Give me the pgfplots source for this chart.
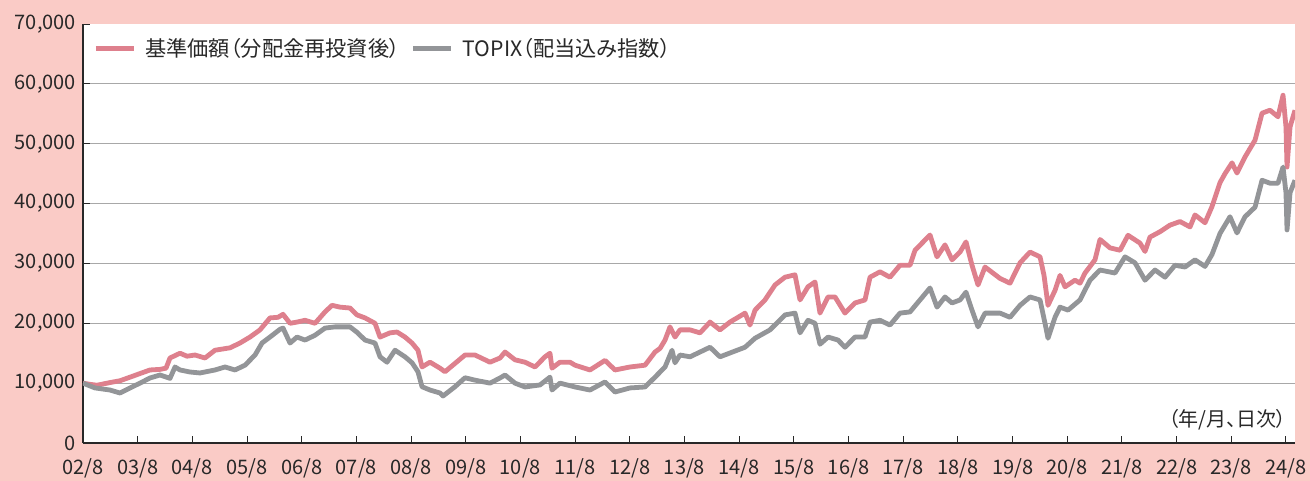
\documentclass[border=0pt]{standalone}
\usepackage{fontspec}
\setmainfont{Noto Sans CJK JP}[RawFeature=+palt]
\usepackage{pgfplots}
\pgfplotsset{compat=1.18}
\usepackage{pgfplotstable}
\definecolor{bgpink}{RGB}{250,203,198}
\definecolor{fundpink}{RGB}{222,128,141}
\definecolor{topixgray}{RGB}{147,149,152}
\definecolor{gridgray}{RGB}{168,168,168}
\definecolor{txt}{RGB}{40,40,40}

% t = years since 2002/8
\pgfplotstableread{
t v
0 10000
0.128 9800
0.256 9650
0.494 10100
0.677 10400
0.860 11000
1.042 11600
1.225 12200
1.408 12300
1.518 12500
1.591 14200
1.774 15000
1.902 14500
2.048 14700
2.231 14200
2.414 15500
2.688 15900
2.871 16700
3.054 17700
3.237 18900
3.420 20900
3.566 21000
3.658 21500
3.786 20000
3.914 20200
4.060 20500
4.243 20000
4.426 21900
4.554 23000
4.700 22700
4.883 22550
5.011 21400
5.157 20900
5.340 20000
5.432 17700
5.614 18400
5.742 18540
5.889 17700
6.017 16700
6.126 15500
6.200 12700
6.346 13500
6.529 12500
6.620 11900
6.803 13300
6.986 14700
7.169 14700
7.443 13500
7.626 14200
7.718 15200
7.900 13900
8.083 13500
8.266 12700
8.449 14400
8.540 15000
8.577 12500
8.723 13500
8.906 13500
8.998 13000
9.272 12200
9.546 13800
9.729 12200
10.004 12700
10.278 13000
10.461 15200
10.552 15800
10.644 17200
10.735 19400
10.826 17700
10.918 18900
11.101 18900
11.284 18400
11.467 20200
11.649 18900
11.832 20200
12.107 21700
12.198 19700
12.290 22200
12.472 23900
12.655 26400
12.838 27700
13.021 28100
13.113 23900
13.259 26100
13.387 26900
13.478 21700
13.625 24400
13.753 24400
13.935 21700
14.118 23400
14.301 23900
14.393 27700
14.576 28600
14.758 27700
14.941 29700
15.124 29700
15.216 32200
15.398 33900
15.490 34750
15.618 31100
15.764 33100
15.892 30600
16.039 31900
16.148 33600
16.258 29700
16.368 26400
16.496 29400
16.770 27500
16.953 26700
17.136 30100
17.319 31900
17.502 31100
17.575 28000
17.648 23000
17.776 25500
17.867 28000
17.959 26100
18.142 27200
18.233 26700
18.325 28400
18.507 30600
18.599 34000
18.782 32600
18.965 32200
19.111 34700
19.330 33400
19.422 32000
19.513 34400
19.696 35300
19.879 36400
20.062 37000
20.245 36100
20.336 38100
20.519 36800
20.647 39500
20.793 43500
20.885 45000
21.013 46800
21.104 45100
21.251 47800
21.434 50600
21.562 55100
21.708 55600
21.854 54500
21.946 58100
22.000 52800
22.019 46100
22.074 52800
22.165 55600
}\fund

\pgfplotstableread{
t v
0 10000
0.219 9200
0.494 8850
0.677 8350
0.860 9200
1.042 10000
1.225 10860
1.408 11360
1.591 10800
1.683 12700
1.774 12200
1.957 11860
2.140 11700
2.414 12200
2.597 12700
2.780 12200
2.963 13000
3.146 14700
3.274 16700
3.420 17700
3.603 19000
3.658 19200
3.786 16700
3.914 17700
4.060 17200
4.243 18000
4.426 19200
4.609 19400
4.883 19400
5.011 18500
5.157 17200
5.340 16700
5.432 14400
5.560 13500
5.706 15500
5.889 14400
6.017 13400
6.126 11900
6.200 9400
6.346 8850
6.529 8350
6.584 7850
6.803 9400
6.986 10900
7.169 10500
7.443 10000
7.626 10860
7.718 11360
7.900 10000
8.083 9360
8.358 9700
8.540 11000
8.577 8850
8.723 10000
8.998 9360
9.272 8850
9.546 10200
9.729 8520
10.004 9200
10.278 9360
10.461 11000
10.644 12700
10.772 15500
10.826 13400
10.918 14700
11.101 14400
11.467 16000
11.649 14400
12.107 16000
12.290 17500
12.564 18900
12.838 21400
13.021 21700
13.113 18400
13.259 20500
13.387 20000
13.478 16500
13.625 17700
13.807 17200
13.935 16000
14.118 17700
14.301 17700
14.393 20200
14.576 20500
14.758 19700
14.941 21700
15.124 21900
15.307 23900
15.490 25900
15.618 22700
15.764 24400
15.892 23400
16.039 23900
16.148 25200
16.258 22200
16.368 19400
16.496 21700
16.770 21700
16.953 21000
17.136 23000
17.319 24400
17.502 23900
17.593 20000
17.648 17500
17.776 21000
17.867 22700
18.014 22200
18.233 23900
18.416 27200
18.599 28900
18.873 28400
19.056 31100
19.239 30100
19.422 27200
19.605 28900
19.788 27700
19.970 29700
20.153 29400
20.336 30600
20.519 29500
20.647 31500
20.793 35000
20.976 37800
21.104 35100
21.251 37800
21.434 39400
21.562 43900
21.708 43400
21.854 43400
21.946 46100
22.000 41800
22.019 35600
22.074 41800
22.165 43900
}\topix

\begin{document}
\begin{tikzpicture}
\fill[bgpink] (-41.5pt,-19pt) rectangle (613.5pt,221.5pt);
\begin{axis}[
  at={(0,0)}, anchor=south west, scale only axis,
  width=606pt, height=209.5pt,
  xmin=0, xmax=22.165, ymin=0, ymax=70000,
  axis x line*=bottom, axis y line*=left,
  axis line style={txt, line width=0.75pt},
  axis background/.style={fill=white},
  xtick={0,...,22},
  xticklabels={02/8,03/8,04/8,05/8,06/8,07/8,08/8,09/8,10/8,11/8,12/8,13/8,14/8,15/8,16/8,17/8,18/8,19/8,20/8,21/8,22/8,23/8,24/8},
  xticklabel style={yshift=-4.5pt},
  ytick={0,10000,...,60000},
  extra y ticks={70000},
  extra y tick style={grid=none},
  ymajorgrids, grid style={gridgray, line width=0.6pt},
  tick style={txt, line width=0.5pt},
  major tick length=3.5pt,
  tick align=inside,
  ticklabel style={font=\fontsize{10}{12}\selectfont, text=txt},
  /pgf/number format/assume math mode=true,
  /pgf/number format/1000 sep={,},
  scaled y ticks=false,
  legend columns=2,
  legend style={at={(0,1)}, anchor=north west, xshift=5pt, yshift=-5pt,
    draw=none, fill=none, inner sep=0pt,
    font=\fontsize{10.6}{12}\selectfont, text=txt,
    /tikz/every even column/.append style={column sep=1pt},
    nodes={inner xsep=4.5pt}},
  legend image code/.code={\draw[#1, line width=2.5pt] (0pt,0pt) -- (19pt,0pt);},
]
\addplot[fundpink, line width=2.4pt, line join=round] table[x=t, y=v] {\fund};
\addlegendentry{基準価額（分配金再投資後）}
\addplot[topixgray, line width=2.4pt, line join=round] table[x=t, y=v] {\topix};
\addlegendentry{TOPIX（配当込み指数）}
\node[anchor=south east, inner sep=0pt, font=\fontsize{10}{12}\selectfont, text=txt, xshift=-4pt, yshift=6.5pt] at (rel axis cs:1,0) {（年/月、日次）};
\end{axis}
\pgfresetboundingbox
\path[use as bounding box] (-41.5pt,-19pt) rectangle (613.5pt,221.5pt);
\end{tikzpicture}
\end{document}
